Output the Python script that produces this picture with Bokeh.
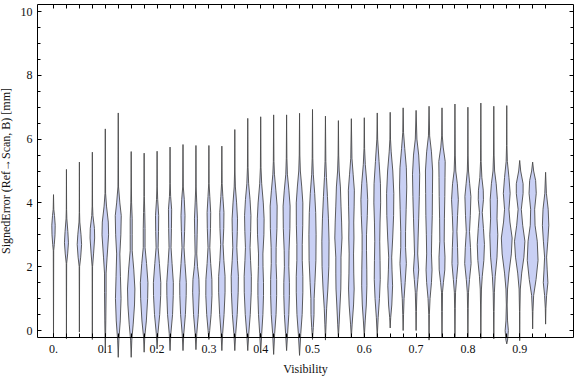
from bokeh.plotting import figure
from bokeh.models import Range1d, LinearAxis, FixedTicker, CustomJSTickFormatter
from bokeh.embed import file_html
from bokeh.resources import INLINE

# ---- data ----
VIS = [0.0, 0.025, 0.05, 0.075, 0.1, 0.125, 0.15, 0.175, 0.2, 0.225,
       0.25, 0.275, 0.3, 0.325, 0.35, 0.375, 0.4, 0.425, 0.45, 0.475,
       0.5, 0.525, 0.55, 0.575, 0.6, 0.625, 0.65, 0.675, 0.7, 0.725,
       0.75, 0.775, 0.8, 0.825, 0.85, 0.875, 0.9, 0.925, 0.95]

ERR_MIN = [-0.2, -0.26, -0.05, -0.28, -0.7, -0.84, -0.84, -0.68, -0.58, -0.63,
           -0.63, -0.6, -0.28, -0.63, -0.63, -0.63, -0.68, -0.75, -0.63, -0.78,
           -0.28, -0.3, -0.22, -0.22, -0.2, -0.2, 0.08, 0.0, 0.0, -0.3,
           -0.2, -0.2, -0.2, -0.25, -0.26, -0.42, -0.32, 0.05, 0.2]

ERR_MAX = [4.26, 5.05, 5.28, 5.59, 6.32, 6.82, 5.61, 5.56, 5.62, 5.75,
           5.83, 5.8, 5.8, 5.78, 6.3, 6.65, 6.7, 6.76, 6.76, 6.81,
           6.93, 6.72, 6.58, 6.64, 6.67, 6.82, 6.84, 6.98, 6.9, 7.03,
           6.98, 7.1, 7.0, 7.13, 7.03, 7.05, 5.33, 5.28, 4.96]

# density profile of each violin: (error value, relative density)
DENSITY = [
    [(2.5, 0.2), (2.7, 0.8), (3.0, 1.5), (3.3, 1.7), (3.6, 1.0), (3.8, 0.3)],
    [(2.1, 0.2), (2.4, 1.2), (2.75, 2.0), (3.1, 1.4), (3.5, 0.4), (3.8, 0.15)],
    [(2.0, 0.2), (2.3, 1.3), (2.7, 2.2), (3.0, 1.6), (3.4, 0.4), (3.7, 0.15)],
    [(2.0, 0.2), (2.4, 1.2), (2.9, 2.3), (3.2, 2.1), (3.6, 0.6), (3.9, 0.2)],
    [(0.3, 0.5), (1.2, 0.8), (1.8, 0.8), (2.3, 1.8), (3.0, 3.3), (3.4, 3.0), (3.9, 1.2), (4.3, 0.3)],
    [(-0.3, 0.6), (0.3, 2.0), (1.0, 2.8), (1.7, 2.2), (2.4, 1.6), (3.0, 2.6), (3.6, 3.0), (4.0, 1.6), (4.5, 0.3)],
    [(-0.3, 0.6), (0.2, 2.0), (0.8, 3.3), (1.3, 3.7), (1.9, 2.6), (2.5, 1.0), (3.0, 1.0), (3.5, 1.0), (4.0, 0.4), (4.5, 0.2)],
    [(-0.2, 0.6), (0.3, 2.2), (1.0, 3.5), (1.5, 3.8), (2.1, 2.4), (2.6, 0.9), (3.2, 0.9), (3.7, 0.6), (4.2, 0.2)],
    [(-0.1, 0.8), (0.5, 2.6), (1.1, 3.6), (1.5, 3.7), (2.1, 2.3), (2.6, 1.0), (3.1, 1.4), (3.6, 1.6), (4.1, 0.6), (4.5, 0.2)],
    [(-0.1, 0.8), (0.5, 2.5), (1.1, 3.2), (1.5, 3.3), (2.1, 2.0), (2.6, 1.0), (3.2, 1.4), (3.8, 1.6), (4.2, 0.6), (4.6, 0.2)],
    [(-0.1, 0.8), (0.5, 2.4), (1.1, 3.2), (1.5, 3.3), (2.1, 2.0), (2.6, 1.0), (3.1, 1.6), (3.6, 2.0), (4.1, 1.3), (4.5, 0.3)],
    [(-0.1, 0.8), (0.5, 2.4), (1.2, 3.3), (1.6, 3.0), (2.0, 1.6), (2.4, 0.8), (3.0, 1.2), (3.5, 1.5), (4.0, 0.8), (4.5, 0.2)],
    [(0.0, 0.8), (0.5, 2.2), (1.1, 3.1), (1.6, 3.0), (2.1, 1.8), (2.6, 0.9), (3.2, 1.6), (3.7, 1.8), (4.2, 0.9), (4.6, 0.2)],
    [(-0.1, 0.8), (0.5, 2.2), (1.2, 3.2), (1.7, 3.2), (2.2, 2.0), (2.7, 1.2), (3.2, 1.9), (3.7, 2.1), (4.2, 1.0), (4.6, 0.3)],
    [(-0.1, 0.9), (0.5, 2.4), (1.2, 3.4), (1.7, 3.6), (2.2, 2.6), (2.6, 2.0), (3.1, 2.5), (3.5, 2.7), (4.0, 1.8), (4.5, 0.6), (5.0, 0.2)],
    [(-0.1, 1.0), (0.5, 2.5), (1.2, 3.5), (1.7, 3.6), (2.2, 2.8), (2.6, 2.3), (3.1, 2.9), (3.6, 3.2), (4.1, 2.3), (4.6, 0.9), (5.1, 0.3)],
    [(-0.1, 1.0), (0.5, 2.2), (1.1, 2.8), (1.5, 2.8), (2.0, 2.3), (2.4, 2.2), (3.0, 3.2), (3.5, 3.4), (4.0, 2.6), (4.6, 1.0), (5.1, 0.3)],
    [(-0.1, 1.0), (0.5, 2.4), (1.1, 3.0), (1.6, 3.0), (2.1, 2.4), (2.6, 2.5), (3.2, 3.3), (3.9, 3.5), (4.4, 2.2), (4.9, 0.8), (5.3, 0.3)],
    [(-0.1, 1.0), (0.5, 2.2), (1.1, 2.8), (1.5, 2.8), (2.0, 2.2), (2.5, 2.4), (3.2, 3.3), (3.9, 3.5), (4.4, 2.3), (4.9, 0.8), (5.4, 0.3)],
    [(-0.1, 1.2), (0.5, 2.6), (1.2, 3.3), (1.7, 3.3), (2.2, 2.7), (2.7, 2.7), (3.3, 3.2), (4.0, 3.3), (4.5, 2.2), (5.0, 0.8), (5.5, 0.3)],
    [(0.1, 0.8), (0.5, 1.5), (1.0, 1.6), (1.5, 2.4), (2.2, 3.4), (3.0, 3.6), (3.7, 3.2), (4.3, 2.2), (4.9, 0.8), (5.4, 0.3)],
    [(0.2, 0.6), (0.7, 1.2), (1.3, 2.4), (2.0, 3.4), (2.8, 3.6), (3.5, 3.0), (4.2, 2.0), (4.8, 1.0), (5.3, 0.4)],
    [(0.2, 0.7), (0.8, 1.6), (1.3, 2.4), (1.8, 2.6), (2.3, 2.6), (2.9, 3.6), (3.4, 3.2), (3.9, 2.6), (4.5, 2.0), (5.0, 0.8), (5.5, 0.3)],
    [(0.2, 0.8), (0.8, 2.2), (1.3, 2.8), (1.8, 2.4), (2.4, 2.2), (2.9, 2.6), (3.4, 2.4), (3.9, 2.8), (4.4, 3.0), (4.9, 1.8), (5.4, 0.6)],
    [(0.3, 0.9), (0.8, 2.0), (1.4, 2.6), (1.9, 2.5), (2.5, 2.2), (3.0, 2.2), (3.6, 3.0), (4.1, 3.4), (4.6, 2.6), (5.2, 1.0), (5.7, 0.3)],
    [(0.4, 0.9), (1.0, 2.2), (1.6, 3.0), (2.2, 2.8), (2.8, 2.5), (3.4, 2.8), (4.0, 3.4), (4.6, 3.2), (5.3, 1.8), (6.0, 0.4)],
    [(0.4, 0.5), (0.8, 1.6), (1.4, 2.4), (1.9, 1.8), (2.3, 1.5), (2.9, 2.5), (3.6, 3.4), (4.3, 3.6), (5.0, 2.6), (5.6, 1.0), (6.0, 0.3)],
    [(0.5, 0.4), (1.0, 0.9), (1.5, 2.0), (2.1, 3.2), (2.6, 2.4), (3.1, 2.4), (3.8, 3.0), (4.5, 3.6), (5.1, 3.2), (5.7, 1.6), (6.2, 0.4)],
    [(0.6, 0.3), (1.2, 0.8), (1.6, 1.8), (1.9, 2.6), (2.4, 1.6), (2.9, 2.0), (3.5, 2.6), (4.2, 3.2), (4.9, 3.6), (5.5, 2.6), (6.0, 0.8)],
    [(0.5, 0.3), (1.0, 1.0), (1.5, 2.4), (1.9, 3.0), (2.4, 2.4), (3.0, 2.7), (3.6, 3.2), (4.3, 3.4), (5.0, 3.6), (5.6, 2.4), (6.1, 0.6)],
    [(0.6, 0.3), (1.2, 0.5), (1.5, 1.4), (1.9, 2.8), (2.3, 3.0), (2.8, 2.2), (3.5, 2.4), (4.2, 2.8), (4.8, 3.0), (5.3, 3.2), (5.75, 1.2), (6.1, 0.3)],
    [(0.7, 0.3), (1.2, 0.6), (1.6, 1.6), (2.1, 3.0), (2.6, 2.6), (3.1, 2.0), (3.6, 2.6), (4.1, 3.4), (4.6, 2.4), (5.0, 0.8), (5.5, 0.3)],
    [(0.7, 0.3), (1.2, 0.6), (1.6, 1.6), (2.1, 3.2), (2.6, 2.6), (3.1, 1.6), (3.6, 2.4), (4.2, 3.0), (4.6, 1.8), (5.0, 0.6), (5.5, 0.2)],
    [(0.8, 0.3), (1.3, 0.6), (1.7, 1.4), (2.2, 3.0), (2.7, 3.6), (3.2, 2.6), (3.7, 1.4), (4.1, 2.6), (4.4, 2.4), (4.8, 1.0), (5.3, 0.3)],
    [(0.6, 0.3), (1.2, 0.6), (1.7, 1.4), (2.3, 3.2), (3.0, 4.0), (3.5, 3.2), (4.1, 3.6), (4.6, 2.4), (5.0, 0.8), (5.5, 0.3)],
    [(-0.3, 0.8), (0.0, 1.6), (0.3, 0.8), (0.8, 0.4), (1.3, 0.8), (1.8, 2.2), (2.4, 4.6), (2.9, 5.4), (3.4, 3.2), (3.8, 2.2), (4.3, 3.4), (4.8, 2.2), (5.3, 0.6), (5.8, 0.2)],
    [(0.6, 0.2), (1.3, 0.6), (1.8, 2.0), (2.3, 4.2), (2.8, 5.2), (3.3, 3.0), (3.8, 1.6), (4.3, 3.4), (4.6, 3.4), (5.0, 1.0)],
    [(0.6, 0.3), (1.1, 1.0), (1.6, 3.4), (2.2, 5.4), (2.8, 4.6), (3.3, 2.4), (3.8, 2.0), (4.3, 3.6), (4.7, 3.0), (5.0, 1.0)],
    [(0.7, 0.3), (1.1, 1.0), (1.5, 2.3), (1.9, 1.6), (2.3, 1.0), (2.8, 2.2), (3.3, 3.2), (3.8, 2.6), (4.3, 0.8)],
]

X_TICKS = [0.0, 0.1, 0.2, 0.3, 0.4, 0.5, 0.6, 0.7, 0.8, 0.9]
X_TICK_LABELS = ["0.", "0.1", "0.2", "0.3", "0.4", "0.5", "0.6", "0.7", "0.8", "0.9"]
Y_TICKS = [0, 2, 4, 6, 8, 10]
Y_MINOR = [0, 0.5, 1, 1.5, 2, 2.5, 3, 3.5, 4, 4.5, 5, 5.5, 6, 6.5, 7, 7.5, 8, 8.5, 9, 9.5, 10]

X_LABEL = "Visibility"
Y_LABEL = "SignedError (Ref\u2192Scan, B) [mm]"

# ---- layout / style ----
WIDTH_SCALE = 1.0 / 518.0          # violin half-width per density unit, in visibility units
FRAME_X = (-0.031, 1.004)
FRAME_Y = (-0.22, 10.22)
FONT = "Liberation Serif"

p = figure(width=576, height=377, output_backend="svg", toolbar_location=None,
           x_range=Range1d(-0.10232, 1.00965), y_range=Range1d(-1.473, 10.345),
           min_border=0, title=None)
p.outline_line_color = None
p.xgrid.visible = False
p.ygrid.visible = False
p.background_fill_color = "white"
p.border_fill_color = "white"

xs, ys = [], []
for xc, lo, hi, dens in zip(VIS, ERR_MIN, ERR_MAX, DENSITY):
    prof = [(lo, 0.0)] + dens + [(hi, 0.0)]
    right_x = [xc + w * WIDTH_SCALE for v, w in prof]
    left_x = [xc - w * WIDTH_SCALE for v, w in reversed(prof)]
    vy = [v for v, w in prof]
    xs.append(right_x + left_x)
    ys.append(vy + vy[::-1])

p.patches(xs, ys, fill_color="#c9d0f4", fill_alpha=1.0,
          line_color="#4a4a4a", line_width=1.0, line_alpha=0.9)


def style_axis(ax, ticks_in, minor_in):
    ax.axis_line_color = "black"
    ax.axis_line_width = 1
    ax.major_tick_line_color = "black"
    ax.minor_tick_line_color = "black"
    ax.major_tick_in = ticks_in
    ax.major_tick_out = 0
    ax.minor_tick_in = minor_in
    ax.minor_tick_out = 0
    ax.major_label_text_font = FONT
    ax.major_label_text_font_size = "12px"
    ax.major_label_text_color = "#111111"
    ax.axis_label_text_font = FONT
    ax.axis_label_text_font_size = "12px"
    ax.axis_label_text_font_style = "normal"
    ax.axis_label_text_color = "#111111"


blank = CustomJSTickFormatter(code="return ''")

# bottom axis
xb = p.xaxis[0]
xb.ticker = FixedTicker(ticks=X_TICKS, minor_ticks=VIS)
xb.major_label_overrides = dict(zip(X_TICKS, X_TICK_LABELS))
xb.fixed_location = FRAME_Y[0]
xb.bounds = FRAME_X
xb.axis_label = X_LABEL
style_axis(xb, 4, 4)
xb.major_label_standoff = 7
xb.axis_label_standoff = 6

# left axis
yl = p.yaxis[0]
yl.ticker = FixedTicker(ticks=Y_TICKS, minor_ticks=Y_MINOR)
yl.fixed_location = FRAME_X[0]
yl.bounds = FRAME_Y
yl.axis_label = Y_LABEL
style_axis(yl, 4, 3)
yl.major_label_standoff = 5
yl.axis_label_standoff = 5

# top axis
xt = LinearAxis(ticker=FixedTicker(ticks=VIS, minor_ticks=[]), formatter=blank)
style_axis(xt, 4, 0)
xt.fixed_location = FRAME_Y[1]
xt.bounds = FRAME_X
xt.major_label_standoff = 0
p.add_layout(xt, "above")

# right axis
yr = LinearAxis(ticker=FixedTicker(ticks=Y_TICKS, minor_ticks=Y_MINOR), formatter=blank)
style_axis(yr, 4, 3)
yr.fixed_location = FRAME_X[1]
yr.bounds = FRAME_Y
yr.major_label_standoff = 0
p.add_layout(yr, "right")

open("out.html", "w").write(file_html(p, INLINE))
